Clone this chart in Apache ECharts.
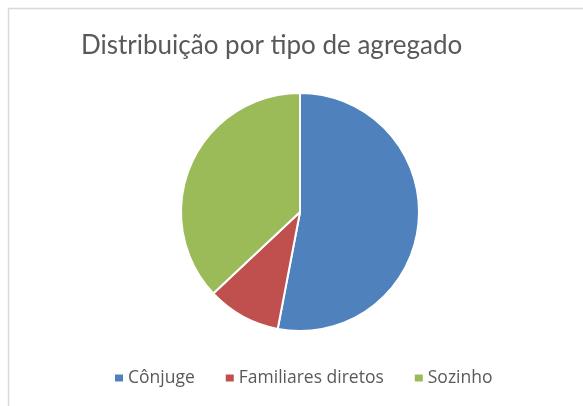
<!DOCTYPE html>
<html>
<head>
<meta charset="utf-8">
<script src="https://cdn.jsdelivr.net/npm/echarts@6/dist/echarts.min.js"></script>
<style>
  html, body { margin: 0; padding: 0; background: #fff; }
  #chart { width: 583px; height: 406px; }
</style>
</head>
<body>
<div id="chart"></div>
<script>
// dados
const titleText = 'Distribuição por tipo de agregado';
const categories = ['Cônjuge', 'Familiares diretos', 'Sozinho'];
const values = [53, 10, 37];
const colors = ['#4f81bd', '#c0504d', '#9bbb59'];

const chart = echarts.init(document.getElementById('chart'));

chart.setOption({
  animation: false,
  color: colors,
  title: {
    text: titleText,
    left: 76,
    top: 28,
    textStyle: {
      fontFamily: 'Lato',
      fontWeight: 'normal',
      fontSize: 26,
      color: '#595959'
    }
  },
  legend: {
    data: categories,
    left: 110,
    bottom: 14,
    icon: 'rect',
    itemWidth: 8,
    itemHeight: 7,
    itemGap: 31,
    itemStyle: { borderWidth: 0 },
    textStyle: {
      fontFamily: 'Open Sans',
      fontSize: 17.5,
      color: '#595959'
    }
  },
  graphic: [{
    type: 'rect',
    shape: { x: 8.5, y: 8.5, width: 600, height: 420 },
    style: { fill: 'none', stroke: '#d9d9d9', lineWidth: 1.5 },
    silent: true,
    z: -1
  }],
  series: [{
    type: 'pie',
    center: [300, 212],
    radius: 119,
    startAngle: 90,
    clockwise: true,
    label: { show: false },
    labelLine: { show: false },
    itemStyle: { borderColor: '#fff', borderWidth: 2 },
    data: categories.map((name, i) => ({ name: name, value: values[i] }))
  }]
});
</script>
</body>
</html>
